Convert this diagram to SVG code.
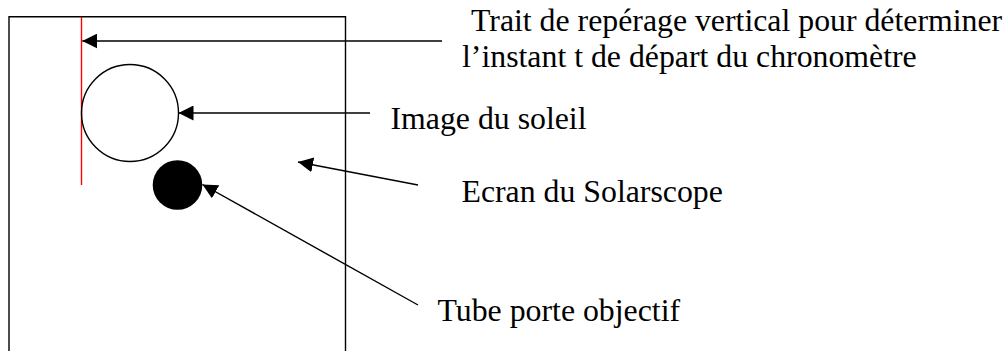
<svg xmlns="http://www.w3.org/2000/svg" width="1008" height="351" viewBox="0 0 1008 351">
<style>
.ln{stroke:#000;stroke-width:1.4;fill:none}
.t{font-family:"Liberation Serif","Times New Roman",serif;font-size:31.8px;fill:#000}
</style>
<defs>
<marker id="ah" viewBox="0 0 15 15" refX="15" refY="7.5" markerWidth="15" markerHeight="15" markerUnits="userSpaceOnUse" orient="auto">
<path d="M0,0 L15,7.5 L0,15 Z" fill="#000"/>
</marker>
</defs>
<rect width="1008" height="351" fill="#fff"/>
<g id="ecran">
<path class="ln" d="M9,360 V16.7 H345.5 V360"/>
</g>
<g id="trait">
<line x1="81.5" y1="17" x2="81.5" y2="185" stroke="#ff0000" stroke-width="1.4"/>
</g>
<g id="soleil">
<circle cx="130" cy="113" r="48.5" class="ln"/>
</g>
<g id="tube">
<circle cx="177.5" cy="185" r="24.8" fill="#000"/>
</g>
<g id="connectors">
<line class="ln" x1="442" y1="41" x2="82.3" y2="41" marker-end="url(#ah)"/>
<line class="ln" x1="370" y1="113" x2="178.5" y2="113" marker-end="url(#ah)"/>
<line class="ln" x1="418" y1="185" x2="298" y2="162" marker-end="url(#ah)"/>
<line class="ln" x1="418" y1="305" x2="202.5" y2="184.5" marker-end="url(#ah)"/>
</g>
<g id="labels">
<text class="t" x="471" y="31">Trait de repérage vertical pour déterminer</text>
<text class="t" x="462" y="66.5">l’instant t de départ du chronomètre</text>
<text class="t" x="390.5" y="129.3">Image du soleil</text>
<text class="t" x="461.5" y="201.7">Ecran du Solarscope</text>
<text class="t" x="437.5" y="321">Tube porte objectif</text>
</g>
</svg>
